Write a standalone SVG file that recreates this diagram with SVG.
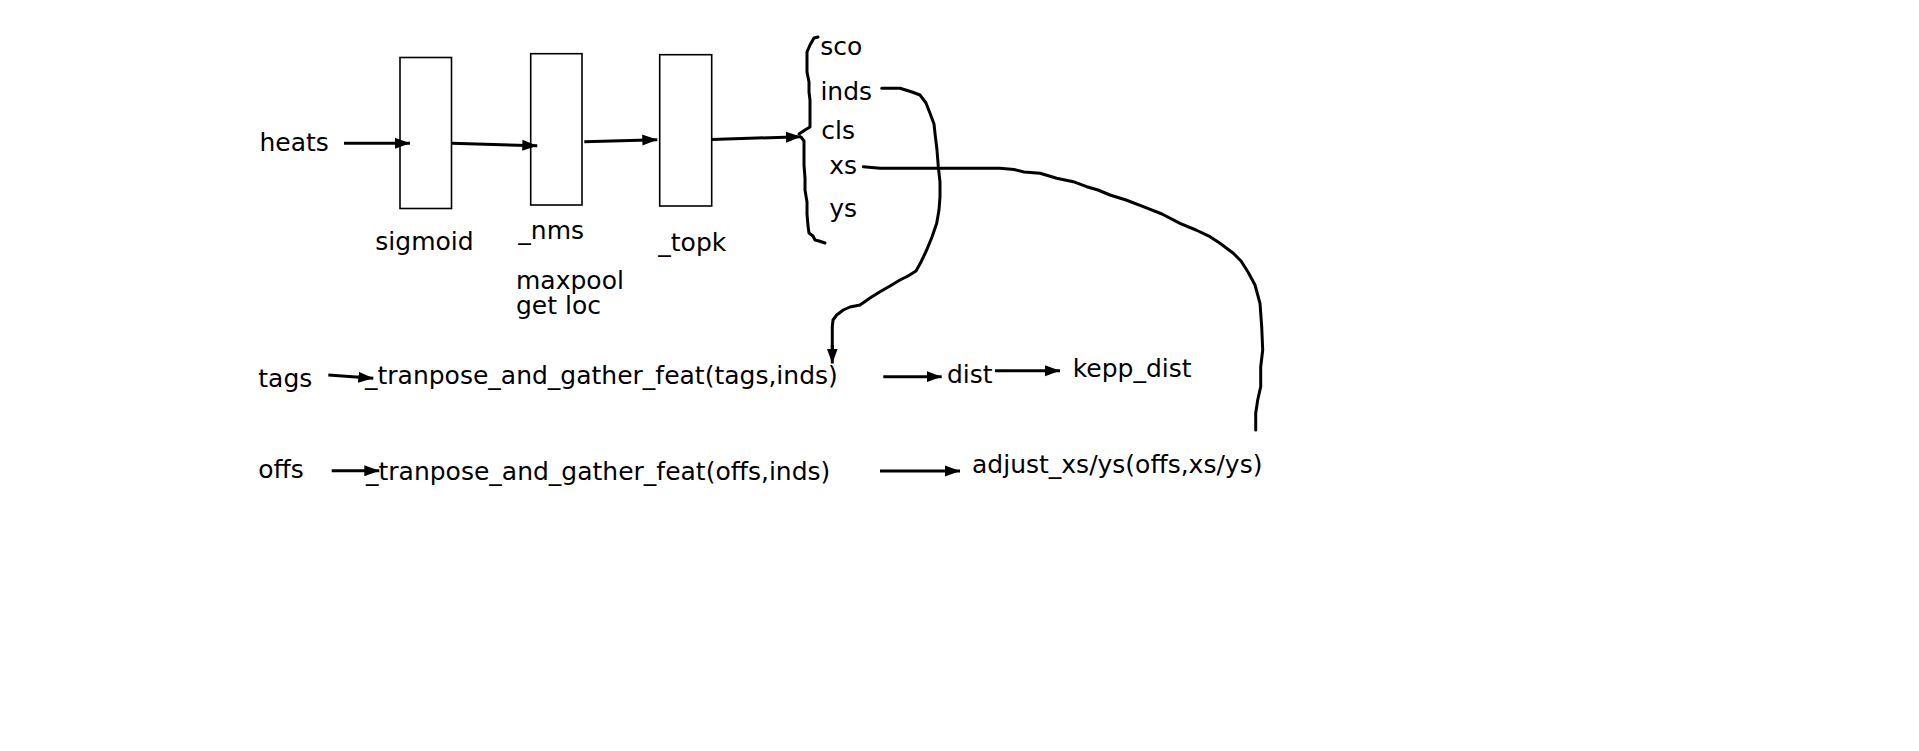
<svg xmlns="http://www.w3.org/2000/svg" width="1919" height="751" viewBox="0 0 1919 751">
  <style>
    .t { font-family: "DejaVu Sans", "Liberation Sans", sans-serif; font-size: 25px; fill: #000; }
    .box { fill: #fff; stroke: #000; stroke-width: 1.6; }
    .arr { fill: none; stroke: #000; stroke-width: 3; stroke-linecap: butt; marker-end: url(#head); }
    .hand { fill: none; stroke: #000; stroke-width: 3; stroke-linejoin: round; stroke-linecap: round; }
  </style>
  <defs>
    <marker id="head" markerUnits="userSpaceOnUse" markerWidth="16" markerHeight="12" refX="15" refY="6" orient="auto">
      <path d="M0,0.5 L15,6 L0,11.5 Z" fill="#000"/>
    </marker>
  </defs>
  <rect width="1919" height="751" fill="#fff"/>

  <!-- input heatmap -->
  <g id="heats">
    <text class="t" x="259.5" y="150.5">heats</text>
  </g>

  <!-- processing stages -->
  <g id="sigmoid">
    <rect class="box" x="400" y="57.5" width="51.5" height="151"/>
    <text class="t" x="375.3" y="250">sigmoid</text>
  </g>
  <g id="nms">
    <rect class="box" x="530.7" y="53.7" width="51.3" height="151.3"/>
    <text class="t" x="518.3" y="239">_nms</text>
    <text class="t" x="516" y="288.5">maxpool</text>
    <text class="t" x="516" y="314">get loc</text>
  </g>
  <g id="topk">
    <rect class="box" x="659.7" y="54.7" width="52" height="151.3"/>
    <text class="t" x="658.3" y="250.5">_topk</text>
  </g>

  <!-- topk outputs grouped by a brace -->
  <g id="topk-outputs">
    <path class="hand" d="M818,37 L814,38 L810,45 L807,52 L807,62 L807,72 L809,82 L809,92 L810,100 L810,110 L810,120 L810,127 L805,130 L799,134"/>
    <path class="hand" d="M801,137 L804,141 L804,152 L804,165 L805,178 L805,190 L807,202 L807,214 L808,226 L809,233 L813,236 L815,240 L819,241 L825,243"/>
    <text class="t" x="820.3" y="54.8">sco</text>
    <text class="t" x="820.4" y="100">inds</text>
    <text class="t" x="821.3" y="139.3">cls</text>
    <text class="t" x="829.3" y="174.2">xs</text>
    <text class="t" x="829.3" y="216.8">ys</text>
  </g>

  <!-- embedding branch -->
  <g id="tags">
    <text class="t" x="258.3" y="386.5">tags</text>
  </g>
  <g id="gather-tags">
    <text class="t" x="365" y="383.5">_tranpose_and_gather_feat(tags,inds)</text>
  </g>
  <g id="dist">
    <text class="t" x="947" y="383">dist</text>
  </g>
  <g id="kepp-dist">
    <text class="t" x="1072.7" y="376.5">kepp_dist</text>
  </g>

  <!-- offset branch -->
  <g id="offs">
    <text class="t" x="258.3" y="477.8">offs</text>
  </g>
  <g id="gather-offs">
    <text class="t" x="366" y="479.5">_tranpose_and_gather_feat(offs,inds)</text>
  </g>
  <g id="adjust">
    <text class="t" x="972" y="473">adjust_xs/ys(offs,xs/ys)</text>
  </g>

  <!-- connectors -->
  <g id="connectors">
    <path class="arr" d="M344,143.3 L410,143.3"/>
    <path class="arr" d="M451.5,143.3 L537.3,145.7"/>
    <path class="arr" d="M584.3,141.7 L657.3,139.7"/>
    <path class="arr" d="M711.7,139.5 L801,136.7"/>

    <path class="arr" d="M328.3,375 L373.3,378.3"/>
    <path class="arr" d="M331.7,470.7 L379.3,470.7"/>
    <path class="arr" d="M883.3,376.7 L941.7,376.7"/>
    <path class="arr" d="M995,370.7 L1060,370.7"/>
    <path class="arr" d="M880,471 L960,471"/>

    <!-- inds feeds the tag gather -->
    <path class="hand" d="M881.7,88.3 L900,88.3 L912,92 L920,95 L926,103 L930,113.3 L934,124 L935,133.3 L937,150 L938.3,166.7 L940,182 L940,196.7 L939,210 L936.7,223.3 L932,237 L926.7,250 L921,262 L916,271 L908,276 L900,280 L890,286 L880,291.7 L870,298 L860,305 L850,307 L843.3,310 L836.7,315 L833,320 L832.3,326.7 L832.3,350"/>
    <path class="arr" d="M832.3,345 L832.3,363.5"/>

    <!-- xs feeds the offset adjustment -->
    <path class="hand" d="M863.3,166.7 L880,168.3 L1000,168.3 L1014,169.5 L1024,172 L1040,173.3 L1056.7,178.3 L1073.3,181.7 L1086.7,186.7 L1098,190 L1110,195 L1126,200 L1143.3,206.7 L1162,214 L1180,223.3 L1196,230 L1210,236.7 L1220,243.3 L1233.3,253.3 L1241,261 L1248,272 L1255,285 L1260,303.3 L1261.7,326.7 L1262.7,350 L1260.7,366.7 L1260.7,386.7 L1257.7,400 L1255.7,413.3 L1255.7,430"/>
  </g>
</svg>
